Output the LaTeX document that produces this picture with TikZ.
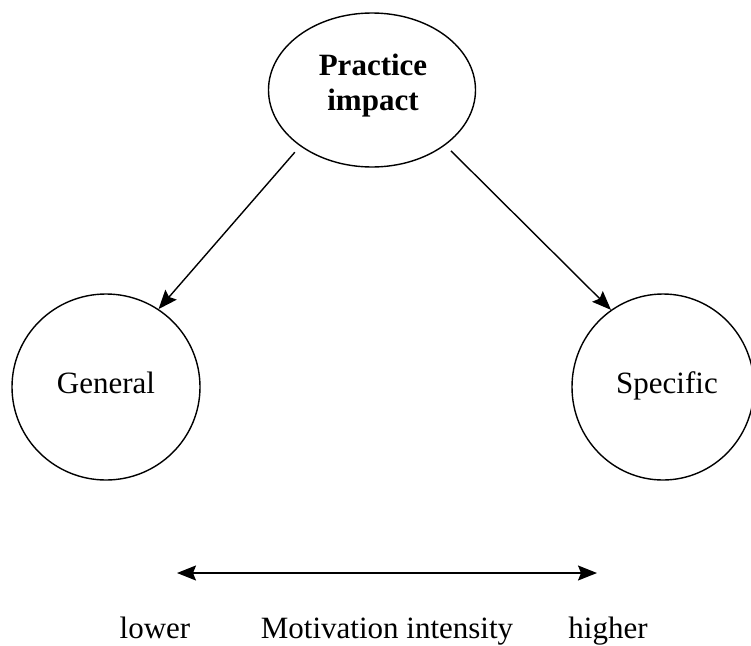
\documentclass[tikz,border=0pt]{standalone}
\usepackage{fontspec}
\setmainfont{Liberation Serif}
\usetikzlibrary{arrows.meta,shapes.geometric}
\tikzset{headtip/.tip={Stealth[length=19pt,width=15pt,inset=3pt]}}
\begin{document}
\begin{tikzpicture}[x=1pt,y=1pt,
  oval/.style={draw,line width=1.4pt,ellipse,inner sep=0pt},
  lbl/.style={font=\fontsize{31}{35}\selectfont},
  link/.style={line width=1.4pt,-{headtip}},
  twoway/.style={line width=1.4pt,{headtip}-{headtip}}]
\useasboundingbox (0,0) rectangle (751,-645);
% the three ellipses
\node[oval,minimum width=207pt,minimum height=154pt] (top) at (372,-90) {};
\node[lbl,font=\fontsize{31}{35}\selectfont\bfseries,anchor=base] (topa) at (373,-75) {Practice};
\node[lbl,font=\fontsize{31}{35}\selectfont\bfseries,anchor=base] (topb) at (373,-110) {impact};
\node[oval,minimum width=188pt,minimum height=186pt] (gen) at (106,-387) {};
\node[oval,minimum width=182pt,minimum height=186pt] (spec) at (663,-387) {};
\node[lbl,anchor=base] (gent) at (106,-393) {General};
\node[lbl,anchor=base] (spect) at (667,-393) {Specific};
% links from the top ellipse
\draw[link,shorten <=8pt] (top.218) -- (gen.56);
\draw[link,shorten <=8pt] (top.323) -- (spec.124);
% intensity scale
\coordinate (sl) at (177,-573);
\coordinate (sh) at (597,-573);
\draw[twoway] (sl) -- (sh);
\node[lbl,anchor=base] (lo) at (155,-638) {lower};
\node[lbl,anchor=base] (mi) at (387,-638) {Motivation intensity};
\node[lbl,anchor=base] (hi) at (608,-638) {higher};
\end{tikzpicture}
\end{document}
